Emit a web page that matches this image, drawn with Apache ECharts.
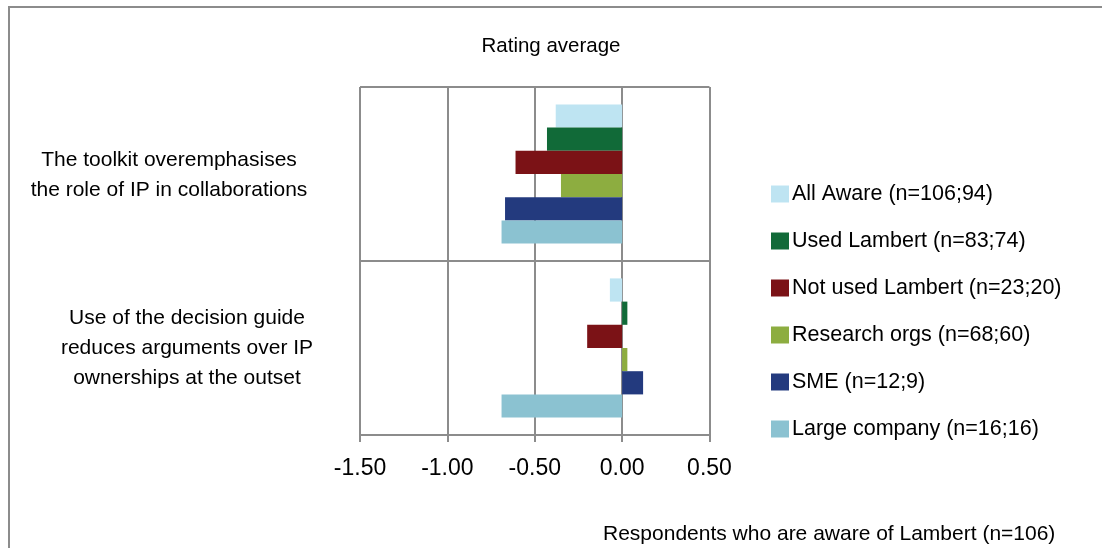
<!DOCTYPE html>
<html>
<head>
<meta charset="utf-8">
<script src="https://cdn.jsdelivr.net/npm/echarts@6/dist/echarts.min.js"></script>
<style>
  html, body { margin: 0; padding: 0; background: #ffffff; }
  #chart { width: 1102px; height: 548px; }
</style>
</head>
<body>
<div id="chart"></div>
<script>
// Survey statements (category axis, top to bottom)
var categories = [
  'The toolkit overemphasises\nthe role of IP in collaborations',
  'Use of the decision guide\nreduces arguments over IP\nownerships at the outset'
];

// Rating averages per respondent group
var seriesNames = [
  'All Aware (n=106;94)',
  'Used Lambert (n=83;74)',
  'Not used Lambert (n=23;20)',
  'Research orgs (n=68;60)',
  'SME (n=12;9)',
  'Large company (n=16;16)'
];
var allAware       = [-0.38, -0.07];
var usedLambert    = [-0.43,  0.03];
var notUsedLambert = [-0.61, -0.20];
var researchOrgs   = [-0.35,  0.03];
var sme            = [-0.67,  0.12];
var largeCompany   = [-0.69, -0.69];

// Value axis ticks
var axisMin = -1.5;
var axisMax = 0.5;
var axisStep = 0.5;

var seriesValues = [allAware, usedLambert, notUsedLambert, researchOrgs, sme, largeCompany];
var seriesColors = ['#BEE4F2', '#116A38', '#7B1216', '#8DAD40', '#233A7E', '#8BC2D1'];

var FONT = '"Liberation Sans", Arial, sans-serif';
var GRID_COLOR = '#8c8c8c';

var chart = echarts.init(document.getElementById('chart'), null, { renderer: 'canvas' });

var series = seriesNames.map(function (name, i) {
  return {
    name: name,
    type: 'bar',
    yAxisIndex: 0,
    data: seriesValues[i],
    barGap: '0%',
    barCategoryGap: '20%',
    itemStyle: { color: seriesColors[i] },
    emphasis: { disabled: true },
    silent: true
  };
});

var option = {
  backgroundColor: '#ffffff',
  animation: false,
  textStyle: { fontFamily: FONT, color: '#000000' },
  title: {
    text: 'Rating average',
    left: 'center',
    top: 31,
    textStyle: { fontFamily: FONT, fontSize: 20.5, fontWeight: 'normal', color: '#000000' }
  },
  legend: {
    orient: 'vertical',
    left: 771,
    top: 183,
    padding: 0,
    itemWidth: 18,
    itemHeight: 17,
    itemGap: 25,
    icon: 'rect',
    selectedMode: false,
    data: seriesNames,
    textStyle: { fontFamily: FONT, fontSize: 21.5, color: '#000000', lineHeight: 21, padding: [0, 0, 0, -2] }
  },
  grid: {
    left: 360,
    right: 392.5,
    top: 87,
    bottom: 113,
    containLabel: false
  },
  xAxis: {
    type: 'value',
    min: axisMin,
    max: axisMax,
    interval: axisStep,
    axisLine: { show: true, onZero: false, lineStyle: { color: GRID_COLOR, width: 2 } },
    axisTick: { show: true, length: 7, lineStyle: { color: GRID_COLOR, width: 2 } },
    splitLine: { show: true, lineStyle: { color: GRID_COLOR, width: 2 } },
    axisLabel: {
      margin: 22,
      fontFamily: FONT,
      fontSize: 23,
      color: '#000000',
      formatter: function (v) { return v.toFixed(2); }
    }
  },
  yAxis: [
    {
      type: 'category',
      inverse: true,
      data: categories,
      axisLine: { show: false },
      axisTick: { show: false },
      splitLine: { show: true, lineStyle: { color: GRID_COLOR, width: 2 } },
      axisLabel: {
        margin: 173,
        align: 'center',
        fontFamily: FONT,
        fontSize: 21,
        lineHeight: 30,
        color: '#000000',
        formatter: function (value, idx) {
          var style = idx === 0 ? 'a' : 'b';
          return value.split('\n').map(function (line) {
            return '{' + style + '|' + line + '}';
          }).join('\n');
        },
        rich: {
          a: { fontFamily: FONT, fontSize: 21, lineHeight: 30, color: '#000000', padding: [3, 36, 0, 0] },
          b: { fontFamily: FONT, fontSize: 21, lineHeight: 30, color: '#000000' }
        }
      }
    },
    {
      // vertical axis crossing at zero, with its small tick marks
      type: 'category',
      inverse: true,
      position: 'left',
      offset: -261.5,
      data: categories,
      axisLine: { show: true, lineStyle: { color: GRID_COLOR, width: 2 } },
      axisTick: { show: true, length: 7, lineStyle: { color: GRID_COLOR, width: 2 } },
      axisLabel: { show: false },
      splitLine: { show: false }
    }
  ],
  graphic: [
    {
      type: 'rect',
      silent: true,
      z: -10,
      shape: { x: 9, y: 7, width: 1200, height: 700 },
      style: { fill: 'none', stroke: '#8c8c8c', lineWidth: 2 }
    },
    {
      type: 'text',
      silent: true,
      left: 603,
      top: 524,
      style: {
        text: 'Respondents who are aware of Lambert (n=106)',
        fontFamily: FONT,
        fontSize: 21,
        fill: '#000000'
      }
    }
  ],
  series: series
};

chart.setOption(option);
</script>
</body>
</html>
